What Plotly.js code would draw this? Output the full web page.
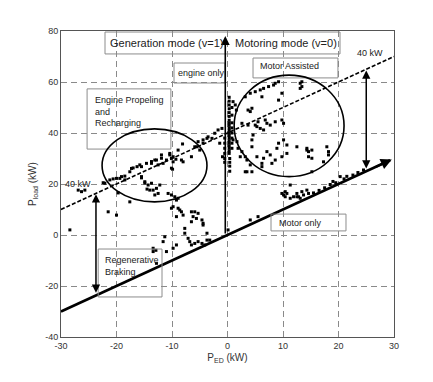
<!DOCTYPE html>
<html><head><meta charset="utf-8">
<script src="https://cdn.plot.ly/plotly-3.0.1.min.js"></script>
<style>body{margin:0;background:#fff}#c{width:433px;height:382px}</style>
</head><body><div id="c"></div>
<script>
// Operating points (P_ED in kW, P_load in kW)
const ptX = [
 -28.4,-26.3,-25.7,-26.9,-21.5,-20,-17.6,-19.7,
 -22.1,-21.2,-20.6,-20,-19.1,-18.5,-17.6,-17,-16.3,-15.5,-15.5,-14.9,-14.5,-14.6,-13.7,-13.1,-12.5,-11.9,-11.6,-11,-10.4,-10.1,-9.8,-9.3,-9.9,-8.9,-8.1,-8,-6.5,-5.9,-5.3,-5,-4.4,-3.5,-2.8,-2.3,-1.7,-1,-1.4,-0.9,
 -22.4,-19.4,-18.5,-17.3,-15.8,-13.7,-12.8,-11.9,-10.4,-9.8,-8.3,-10.1,-5.5,-4.4,-3.7,
 -14.9,-14.3,-13.7,-13.4,-12.8,-13.1,-12.5,-12.2,-14,-15.5,
 -10.7,-10.1,-9.5,-9.2,-8.9,-9.8,-10.1,-8.9,-8.6,-8.3,-9.2,-8,-6.5,-5.9,-6.2,-5.6,-6.5,-5.3,-4.6,-4.4,-7.7,-7.1,-3.7,-4.4,-7.7,-6.8,-6.5,-5.9,-5.3,-4.6,-3.7,-3.2,-4.1,
 -13.4,-13.4,-12.9,-11.6,-11.3,-11,-9.8,-9.2,-12.8,
 0.3,0.3,0.3,0.3,0.3,0.3,0.3,0.3,0.3,0.3,0.3,0.3,0.3,0.3,0.3,0.3,0.3,0.3,0.3,0.3,
 0.8,0.8,0.8,0.8,0.8,0.8,0.8,0.8,
 -0.5,-0.5,-0.5,-0.5,-0.5,-0.5,
 0.4,0.4,0.4,0.4,0.1,
 1,1.4,1.6,1,1.7,1.9,2.6,3.2,3.5,4.1,3.5,4.4,4.4,4.6,3.7,4.1,4.4,2.6,3.7,5,5.5,6.8,7.1,7.7,8.6,9.8,10.1,5.3,5.9,6.5,
 3.2,4.1,5,5.9,6.5,7.4,8.3,8.6,9.2,9.8,6.2,13.1,13.1,13.4,13.4,9.2,
 7.1,6.5,6.2,6.2,7.7,8.9,8.6,9.8,9.2,10.1,10.7,12.5,14.3,4.4,2.3,14.3,14.6,15.2,14.6,15.2,17.9,18.2,18.2,17.3,15.2,10.7,8,5.3,3.2,
 9.8,10.4,10.4,10.7,10.1,11.3,11.9,12.5,12.8,13.1,13.4,13.7,14.6,14.3,11.3,12.5,4.1,5.5,
 15.5,16.5,17.5,18.5,19.5,20.3,21,22.6,23.5,24.5,21.5,19
];
const ptY = [
 2,17,17.6,17.6,9.1,7.8,13,16.5,
 20.3,21.6,22,22.2,22.9,21.6,24.8,26.3,26.8,26.8,22.4,20.4,18,28.1,28.8,29.4,27.5,30.1,28.1,29.4,31.4,30.1,28.7,29.7,25.8,33.3,35.7,28.7,30.7,34.6,36.6,33.3,37.3,38.5,37.9,39.9,41.2,41.8,36,30.7,
 20.5,22.2,23.1,26.1,27.5,28.1,29.4,31.4,32,30.7,29.4,26.2,34.6,36,37.9,
 20.9,19.6,20.3,17.6,18.3,15.7,16.3,19.6,17.6,22.9,
 16.3,15.7,15,13.7,14.4,11.1,10.5,10.5,9.8,9.1,7.2,7.8,9.1,9.1,7.2,6.5,5.2,8.5,5.9,3.9,2.6,-1.3,0.7,4.6,0.7,-2.6,-3.9,-3.3,-2.6,-3.3,-2,-2,-3.9,
 -5.2,-6.5,-6,-2.6,-0.7,-6.5,-5.2,-3.9,-11.1,
 54,52.5,51,49.5,48,46.5,45,44,43,42,41,40,39,38,37,36,35,34,33,32,
 50,47,44,42,40,38,36,34,
 38,36,34,32,30,28.5,
 30,28.5,27,25,2,
 52.3,51,49,37.3,36.6,34,32.7,30.7,29.4,27.5,24.8,34.6,37.3,39.2,49,48.4,49.7,43.8,43.1,43.1,44.4,45.1,43.8,43.1,44.4,45.1,43.8,42.5,41.8,41.2,
 54.2,55.6,56.2,56.9,57.5,58.2,58.8,59.5,60.1,55.6,54.2,59.5,57.5,60.1,58.2,52.9,
 32.7,30.1,28.1,26.8,31.4,34,29.4,30.7,36,37.3,35.3,34.6,33.3,24.8,30.7,34,32.7,33.3,30.7,30.1,34.6,32.7,31.4,28.7,24.8,32,28.1,30.7,24.8,
 16.3,17,15,16.3,15.7,19.6,15,16.3,15,14.4,17,15.7,16.3,17.6,14.4,15,5.9,7.2,
 16.5,17.5,18.5,19.8,20.5,22.9,22,23.5,24.5,25.5,23,21
];
// Boundary lines: motor-only (P_load = P_ED) and engine max (P_load = P_ED + 40)
const lowX = [-30, 29.3];
const lowY = [-30, 29.3];
const upX = [-30, 30];
const upY = [10, 70];
const xTicks = [-30,-20,-10,0,10,20,30];
const yTicks = [-40,-20,0,20,40,60,80];

const FONT = 'Liberation Sans, Arial, sans-serif';
const traces = [
 {x: lowX, y: lowY, mode:'lines', line:{color:'#000', width:2.6}, hoverinfo:'skip'},
 {x: upX, y: upY, mode:'lines', line:{color:'#000', width:1.6, dash:'4px,2px'}, hoverinfo:'skip'},
 {x: ptX, y: ptY, mode:'markers', marker:{symbol:'square', size:3, color:'#000'}, hoverinfo:'skip'}
];

function box(x0,x1,y0,y1){return {type:'rect',xref:'x',yref:'y',x0:x0,x1:x1,y0:y0,y1:y1,line:{color:'#8c8c8c',width:1},fillcolor:'rgba(0,0,0,0)',layer:'above'};}
function ell(x0,x1,y0,y1){return {type:'circle',xref:'x',yref:'y',x0:x0,x1:x1,y0:y0,y1:y1,line:{color:'#000',width:1.6},layer:'above'};}
function txt(t,x,y,xa,sz){return {text:t,x:x,y:y,xref:'x',yref:'y',xanchor:xa,yanchor:'middle',showarrow:false,align:'left',font:{family:FONT,size:sz,color:'#222'}};}
function arr(x,y,ax,ay,both,w){return {x:x,y:y,ax:ax,ay:ay,xref:'x',yref:'y',axref:'x',ayref:'y',text:'',showarrow:true,arrowhead:2,arrowsize:1.1,arrowwidth:w||1.5,arrowcolor:'#000',arrowside: both?'end+start':'end',startarrowhead:2,startarrowsize:1.1};}

const layout = {
 width:433, height:382,
 margin:{l:61, r:39, t:31, b:45},
 paper_bgcolor:'#fff', plot_bgcolor:'#fff',
 showlegend:false,
 font:{family:FONT, size:9, color:'#333'},
 xaxis:{range:[-30,30], tickvals:xTicks, ticktext:xTicks.map(String), showgrid:true, gridcolor:'#8a8a8a', griddash:'6px,4px', gridwidth:1,
   zeroline:false, showline:true, linecolor:'#555', linewidth:1, mirror:true, ticks:'', tickfont:{size:9,color:'#333'},
   title:{text:'P<sub>ED</sub> (kW)', font:{size:10,color:'#333'}, standoff:4}},
 yaxis:{range:[-40,80], tickvals:yTicks, ticktext:yTicks.map(String), showgrid:true, gridcolor:'#8a8a8a', griddash:'6px,4px', gridwidth:1,
   zeroline:false, showline:true, linecolor:'#555', linewidth:1, mirror:true, ticks:'', tickfont:{size:9,color:'#333'},
   title:{text:'P<sub>load</sub> (kW)', font:{size:10,color:'#333'}, standoff:6}},
 shapes:[
   box(-22.07,20.27,71.0,79.6),
   box(-9.64,-0.45,59.6,67.45),
   box(-25.3,-10.2,33.7,57.3),
   box(4.6,19.9,61.6,69.4),
   box(-23.3,-11.8,-24.3,-5.5),
   box(7.84,21.35,1.6,8.2),
   ell(-22.6,-3.7,13.0,41.6),
   ell(1.2,21.0,22.9,62.7)
 ],
 annotations:[
   arr(-0.4,78,-0.4,0,false,1.6),
   arr(29.6,29.6,26.5,26.5,false,2),
   arr(25,64.5,25,25.5,true,1.5),
   arr(-23.7,16,-23.7,-23.2,true,1.5),
   txt('Generation mode (v=1)',-21.5,75.3,'left',11),
   txt('Motoring mode (v=0)',1.0,75.3,'left',11),
   txt('engine only',-4.77,63.5,'center',9),
   txt('Engine Propeling<br>and<br>Recharging',-24.3,48.6,'left',9),
   txt('Motor Assisted',11.26,66.3,'center',9),
   txt('Regenerative<br>Braking',-22.4,-12,'left',9),
   txt('Motor only',8.9,4.7,'left',9),
   txt('40 kW',25.7,71.4,'center',9),
   txt('40 kW',-26.9,20,'center',9)
 ]
};
Plotly.newPlot('c', traces, layout, {staticPlot:true, displayModeBar:false});
</script></body></html>
